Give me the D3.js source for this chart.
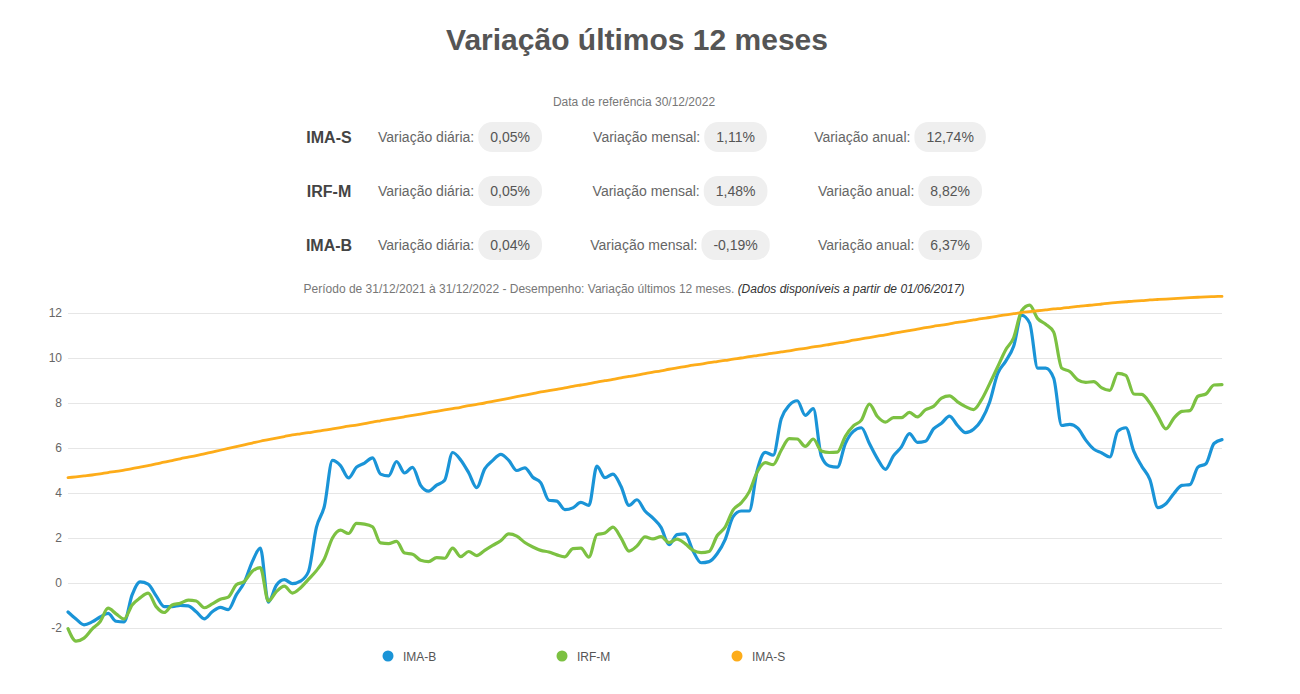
<!DOCTYPE html>
<html>
<head>
<meta charset="utf-8">
<script src="https://cdn.jsdelivr.net/npm/d3@7"></script>
<style>
  body { margin: 0; background: #fff; }
  svg { display: block; font-family: "Liberation Sans", Arial, sans-serif; }
</style>
</head>
<body>
<div id="main"></div>
<script>
// Table data
const indexNames = ["IMA-S", "IRF-M", "IMA-B"];
const varDiaria = ["0,05%", "0,05%", "0,04%"];
const varMensal = ["1,11%", "1,48%", "-0,19%"];
const varAnual = ["12,74%", "8,82%", "6,37%"];

// Rolling 12-month variation (%), sampled along 2022
const imaB = [-1.29,-1.60,-1.86,-1.73,-1.51,-1.35,-1.70,-1.73,-0.53,0.05,
  -0.05,-0.57,-1.05,-1.05,-0.99,-1.02,-1.28,-1.59,-1.28,-1.08,
  -1.18,-0.53,0.03,0.95,1.55,-0.85,-0.10,0.15,-0.03,0.08,
  0.50,2.47,3.43,5.45,5.22,4.67,5.15,5.33,5.56,4.84,
  4.76,5.40,4.89,5.14,4.34,4.08,4.35,4.57,5.80,5.47,
  4.90,4.24,5.07,5.45,5.72,5.45,5.00,5.12,4.70,4.45,
  3.68,3.64,3.26,3.34,3.58,3.45,5.19,4.68,4.84,4.30,
  3.45,3.70,3.20,2.88,2.47,1.70,2.15,2.18,1.42,0.90,
  0.95,1.30,1.93,2.95,3.20,3.20,5.00,5.81,5.68,7.30,
  7.90,8.10,7.45,7.75,5.64,5.20,5.15,6.20,6.74,6.90,
  6.20,5.53,5.05,5.65,6.05,6.64,6.25,6.30,6.85,7.10,
  7.42,7.00,6.68,6.83,7.25,8.03,9.30,9.85,10.52,11.90,
  11.55,9.55,9.55,9.10,7.00,7.05,6.88,6.35,5.95,5.78,
  5.60,6.75,6.90,5.85,5.18,4.60,3.35,3.52,3.98,4.34,
  4.37,5.15,5.30,6.20,6.37];

const irfM = [-2.03,-2.58,-2.45,-2.05,-1.72,-1.12,-1.37,-1.60,-0.98,-0.66,
  -0.45,-1.05,-1.31,-0.98,-0.90,-0.76,-0.80,-1.10,-0.93,-0.72,
  -0.63,-0.08,0.07,0.52,0.68,-0.80,-0.38,-0.14,-0.45,-0.22,
  0.16,0.55,1.08,2.00,2.35,2.20,2.65,2.62,2.50,1.78,
  1.75,1.85,1.33,1.28,1.01,0.95,1.13,1.10,1.55,1.17,
  1.40,1.22,1.45,1.67,1.88,2.18,2.08,1.80,1.60,1.45,
  1.38,1.25,1.16,1.53,1.55,1.15,2.15,2.22,2.48,2.01,
  1.42,1.65,2.05,1.96,2.06,1.80,1.95,1.75,1.45,1.35,
  1.40,2.10,2.48,3.25,3.56,4.05,4.93,5.35,5.26,5.90,
  6.42,6.40,6.07,6.40,5.87,5.80,5.82,6.52,6.98,7.24,
  7.95,7.40,7.15,7.35,7.35,7.58,7.38,7.70,7.85,8.22,
  8.32,8.05,7.84,7.71,8.15,8.85,9.60,10.36,10.90,12.10,
  12.35,11.75,11.50,11.15,9.55,9.40,9.03,8.92,8.95,8.67,
  8.56,9.32,9.23,8.40,8.38,8.00,7.42,6.85,7.33,7.63,
  7.66,8.30,8.40,8.80,8.82];

const imaS = [4.68,4.72,4.76,4.80,4.85,4.91,4.96,5.02,5.08,5.15,
  5.22,5.29,5.37,5.44,5.52,5.59,5.66,5.74,5.82,5.90,
  5.98,6.06,6.14,6.22,6.30,6.37,6.44,6.51,6.58,6.63,
  6.68,6.74,6.79,6.85,6.91,6.97,7.02,7.08,7.15,7.21,
  7.27,7.33,7.39,7.45,7.51,7.57,7.63,7.69,7.75,7.81,
  7.88,7.94,8.00,8.07,8.14,8.21,8.28,8.35,8.42,8.49,
  8.55,8.61,8.67,8.74,8.80,8.86,8.93,8.99,9.05,9.12,
  9.18,9.24,9.31,9.37,9.43,9.50,9.56,9.62,9.68,9.73,
  9.79,9.84,9.89,9.95,10.00,10.06,10.11,10.16,10.22,10.27,
  10.32,10.38,10.43,10.49,10.54,10.60,10.66,10.72,10.79,10.85,
  10.91,10.97,11.03,11.10,11.16,11.22,11.28,11.35,11.41,11.46,
  11.52,11.58,11.63,11.69,11.75,11.80,11.86,11.92,11.97,12.02,
  12.06,12.10,12.14,12.18,12.21,12.25,12.29,12.33,12.36,12.40,
  12.44,12.47,12.50,12.53,12.55,12.58,12.60,12.62,12.64,12.66,
  12.68,12.70,12.72,12.73,12.74];

const yTicks = [-2, 0, 2, 4, 6, 8, 10, 12];
const seriesNames = ["IMA-B", "IRF-M", "IMA-S"];

// Layout / style
const ctx = {
  width: 1300, height: 694,
  plotLeft: 68, plotRight: 1222, plotTop: 313, plotBottom: 628,
  colors: { "IMA-B": "#1a94d7", "IRF-M": "#7cc142", "IMA-S": "#fdac19" }
};

const svg = d3.select("#main").append("svg")
  .attr("width", ctx.width)
  .attr("height", ctx.height);

// Title
svg.append("text")
  .attr("x", 637).attr("y", 50)
  .attr("text-anchor", "middle")
  .style("font-size", "30px").style("font-weight", "bold")
  .style("fill", "#555")
  .text("Variação últimos 12 meses");

svg.append("text")
  .attr("x", 634).attr("y", 106)
  .attr("text-anchor", "middle")
  .style("font-size", "12px").style("fill", "#777")
  .text("Data de referência 30/12/2022");

// Table of variations
const rowY = [137, 191, 245];
const colCenters = [460, 680, 900];
const colLabels = ["Variação diária:", "Variação mensal:", "Variação anual:"];
const colValues = [varDiaria, varMensal, varAnual];

const table = svg.append("g").attr("id", "table");

indexNames.forEach(function(name, r) {
  table.append("text")
    .attr("x", 329).attr("y", rowY[r] + 5.5)
    .attr("text-anchor", "middle")
    .style("font-size", "16px").style("font-weight", "bold")
    .style("fill", "#444")
    .text(name);

  colLabels.forEach(function(label, c) {
    const g = table.append("g");
    const lab = g.append("text")
      .attr("y", rowY[r] + 5)
      .style("font-size", "14px").style("fill", "#666")
      .text(label);
    const val = g.append("text")
      .attr("y", rowY[r] + 5)
      .attr("text-anchor", "middle")
      .style("font-size", "14px").style("fill", "#555")
      .text(colValues[c][r]);
    const lw = lab.node().getComputedTextLength();
    const vw = val.node().getComputedTextLength();
    const pw = vw + 24;
    const total = lw + 4 + pw;
    const x0 = colCenters[c] - total / 2;
    lab.attr("x", x0);
    g.insert("rect", "text:last-child")
      .attr("x", x0 + lw + 4).attr("y", rowY[r] - 15)
      .attr("width", pw).attr("height", 30)
      .attr("rx", 14).attr("ry", 14)
      .style("fill", "#efefef");
    val.attr("x", x0 + lw + 4 + pw / 2);
  });
});

// Period subtitle
const sub = svg.append("text")
  .attr("x", 634).attr("y", 293)
  .attr("text-anchor", "middle")
  .style("font-size", "12px").style("fill", "#777");
sub.append("tspan")
  .text("Período de 31/12/2021 à 31/12/2022 - Desempenho: Variação últimos 12 meses. ");
sub.append("tspan")
  .style("font-style", "italic").style("fill", "#333")
  .text("(Dados disponíveis a partir de 01/06/2017)");

// Scales
const x = d3.scaleLinear()
  .domain([0, imaB.length - 1])
  .range([ctx.plotLeft, ctx.plotRight]);

const y = d3.scaleLinear()
  .domain([-2, 12])
  .range([ctx.plotBottom, ctx.plotTop]);

// Grid + y labels (plain hyphen for negatives, as in the source)
const yAxis = d3.axisLeft(y)
  .tickValues(yTicks)
  .tickSize(-(ctx.plotRight - ctx.plotLeft))
  .tickPadding(6)
  .tickFormat(d => String(d));

const gy = svg.append("g")
  .attr("transform", `translate(${ctx.plotLeft},0)`)
  .call(yAxis);
gy.select(".domain").remove();
gy.selectAll(".tick line").style("stroke", "#e6e6e6").style("stroke-width", 1);
gy.selectAll(".tick text")
  .style("font-size", "12px").style("fill", "#666")
  .style("font-family", "\"Liberation Sans\", Arial, sans-serif");

// Lines
const line = d3.line()
  .x((d, i) => x(i))
  .y(d => y(d))
  .curve(d3.curveMonotoneX);

const seriesData = { "IMA-B": imaB, "IRF-M": irfM, "IMA-S": imaS };

svg.append("g").attr("id", "lines")
  .selectAll("path")
  .data(seriesNames)
  .enter().append("path")
  .attr("d", d => line(seriesData[d]))
  .style("fill", "none")
  .style("stroke", d => ctx.colors[d])
  .style("stroke-width", d => d === "IMA-S" ? 2.8 : 3.2)
  .style("stroke-linejoin", "round")
  .style("stroke-linecap", "round");

// Legend
const legendX = [388, 562, 737];
const legend = svg.append("g").attr("id", "legend")
  .selectAll("g")
  .data(seriesNames)
  .enter().append("g")
  .attr("transform", (d, i) => `translate(${legendX[i]},656)`);

legend.append("circle")
  .attr("r", 5.5)
  .style("fill", d => ctx.colors[d]);

legend.append("text")
  .attr("x", 15).attr("y", 4.5)
  .style("font-size", "12px").style("fill", "#555")
  .text(d => d);
</script>
</body>
</html>
